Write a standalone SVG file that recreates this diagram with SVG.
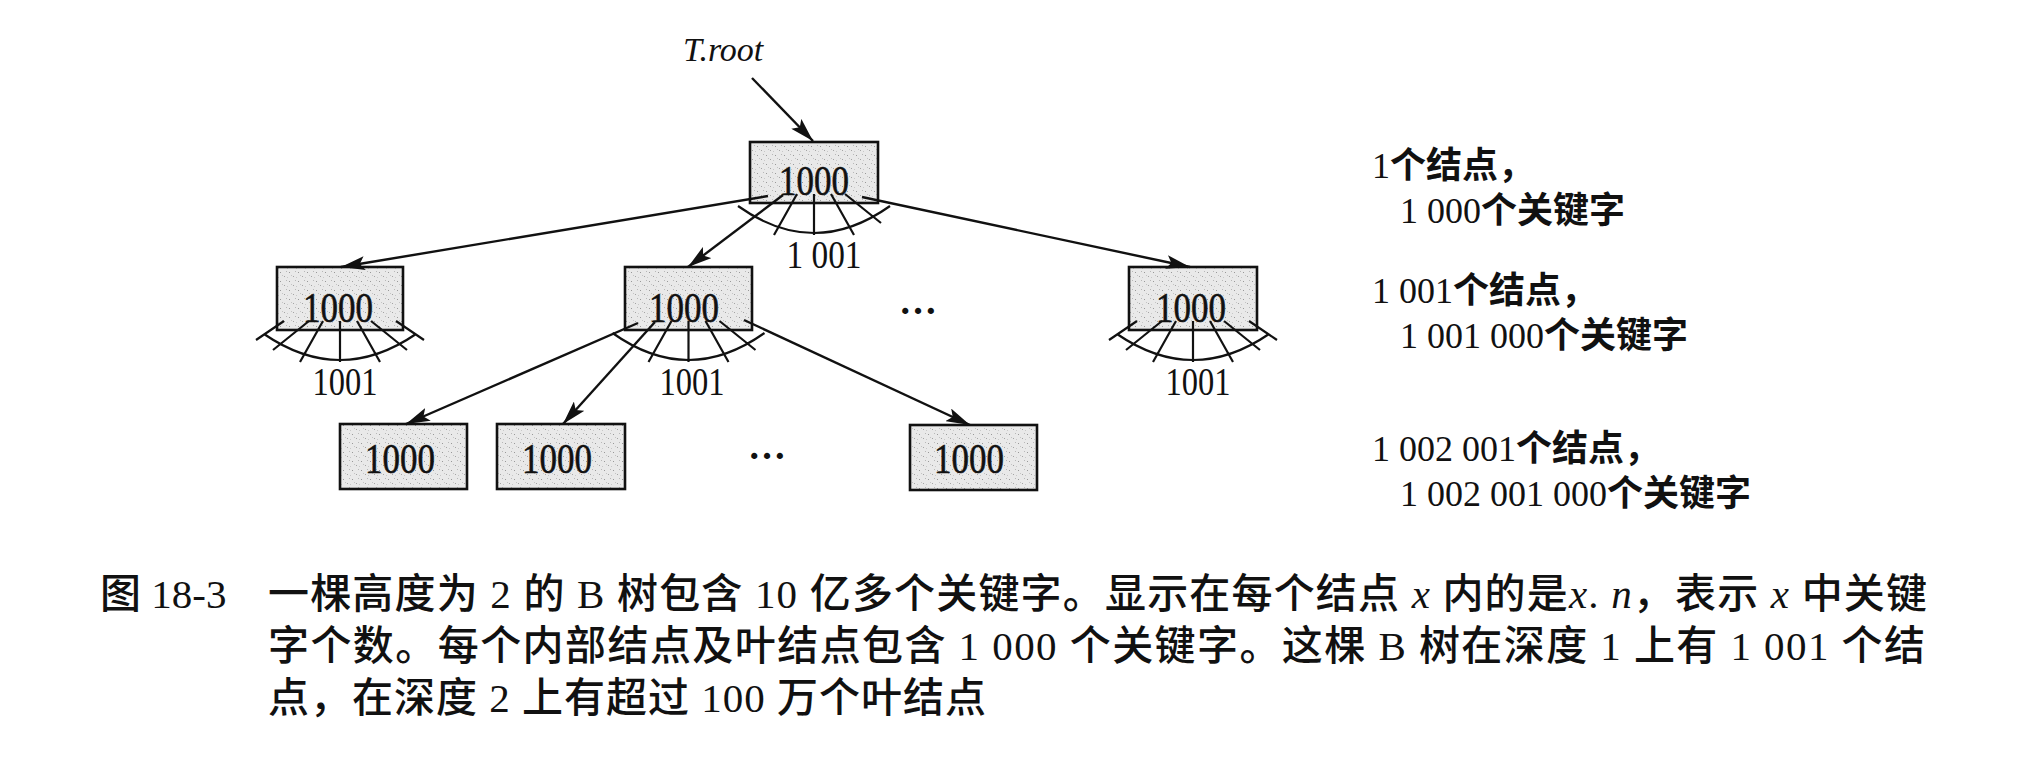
<svg xmlns="http://www.w3.org/2000/svg" xmlns:xlink="http://www.w3.org/1999/xlink" width="2018" height="770" viewBox="0 0 2018 770">
<style>
.box{fill:url(#stip);stroke:#111;stroke-width:2.6}
.key{font-family:"Liberation Serif",serif;font-size:42px;fill:#111;stroke:#111;stroke-width:0.6;text-anchor:middle}
.cnt{font-family:"Liberation Serif",serif;font-size:40px;fill:#111;text-anchor:middle}
.fan{fill:none;stroke:#111;stroke-width:2.2}
.edge{fill:none;stroke:#111;stroke-width:2.4;marker-end:url(#arr)}
.side{font-family:"Liberation Serif","Noto Sans CJK SC",serif;font-size:36px;fill:#111}
.cj{font-family:"Noto Sans CJK SC",sans-serif;font-weight:bold}
.cap{font-family:"Liberation Serif","Noto Sans CJK SC",serif;font-size:41px;fill:#111}
.capc{font-family:"Noto Sans CJK SC",sans-serif;font-weight:500}
.it{font-style:italic}
.dots{font-family:"Liberation Serif",serif;font-size:38px;font-weight:bold;fill:#111;text-anchor:middle}
</style>
<defs>
<pattern id="stip" width="9" height="9" patternUnits="userSpaceOnUse">
<rect width="9" height="9" fill="#e9e9e9"/>
<rect x="1" y="2" width="1" height="1" fill="#999"/>
<rect x="5" y="6" width="1" height="1" fill="#a4a4a4"/>
<rect x="7" y="1" width="1" height="1" fill="#b8b8b8"/>
<rect x="3" y="5" width="1" height="1" fill="#c4c4c4"/>
<rect x="8" y="7" width="1" height="1" fill="#c8c8c8"/>
</pattern>
<marker id="arr" markerUnits="userSpaceOnUse" viewBox="0 0 24 14" markerWidth="24" markerHeight="14" refX="24" refY="7" orient="auto">
<path d="M0,0 L24,7 L0,14 L5,7 Z" fill="#111"/>
</marker>
<path id="fan7" class="fan" d="M-56,-9 L-84,10 M-31,-9 L-67,20 M-17,-9 L-40,32 M0,-9 L0,32 M17,-9 L40,32 M31,-9 L67,20 M56,-9 L84,10 M-76,4 Q0,56 76,4"/>
<path id="fan4" class="fan" d="M-17,-9 L-40,32 M0,-9 L0,32 M17,-9 L40,32 M31,-9 L67,20 M-76,3 Q0,57 76,3"/>
</defs>
<rect width="2018" height="770" fill="#fff"/>

<text id="label-troot" x="683" y="61" font-family="Liberation Serif, serif" font-style="italic" font-size="34" fill="#111">T.root</text>

<g id="node-root">
<rect class="box" x="750" y="142" width="128" height="61"/>
<text class="key" x="814" y="195" textLength="70" lengthAdjust="spacingAndGlyphs">1000</text>
<use xlink:href="#fan4" href="#fan4" x="814" y="203"/>
<text class="cnt" x="824" y="268" textLength="75" lengthAdjust="spacingAndGlyphs">1 001</text>
</g>

<g id="node-l1-left">
<rect class="box" x="277" y="267" width="126" height="63"/>
<text class="key" x="338" y="322" textLength="70" lengthAdjust="spacingAndGlyphs">1000</text>
<use xlink:href="#fan7" href="#fan7" x="340" y="330"/>
<text class="cnt" x="345" y="395" textLength="65" lengthAdjust="spacingAndGlyphs">1001</text>
</g>

<g id="node-l1-mid">
<rect class="box" x="625" y="267" width="127" height="63"/>
<text class="key" x="684" y="322" textLength="70" lengthAdjust="spacingAndGlyphs">1000</text>
<use xlink:href="#fan4" href="#fan4" x="688.5" y="330"/>
<text class="cnt" x="692" y="395" textLength="65" lengthAdjust="spacingAndGlyphs">1001</text>
</g>

<g id="node-l1-dots">
<text class="dots" x="918" y="314">…</text>
</g>

<g id="node-l1-right">
<rect class="box" x="1129" y="267" width="128" height="63"/>
<text class="key" x="1191" y="322" textLength="70" lengthAdjust="spacingAndGlyphs">1000</text>
<use xlink:href="#fan7" href="#fan7" x="1193" y="330"/>
<text class="cnt" x="1198" y="395" textLength="65" lengthAdjust="spacingAndGlyphs">1001</text>
</g>

<g id="node-leaf1">
<rect class="box" x="340" y="424" width="127" height="65"/>
<text class="key" x="400" y="473" textLength="70" lengthAdjust="spacingAndGlyphs">1000</text>
</g>

<g id="node-leaf2">
<rect class="box" x="497" y="424" width="128" height="65"/>
<text class="key" x="557" y="473" textLength="70" lengthAdjust="spacingAndGlyphs">1000</text>
</g>

<g id="node-leaf-dots">
<text class="dots" x="767" y="459">…</text>
</g>

<g id="node-leaf3">
<rect class="box" x="910" y="425" width="127" height="65"/>
<text class="key" x="969" y="473" textLength="70" lengthAdjust="spacingAndGlyphs">1000</text>
</g>

<g id="connectors">
<line class="edge" x1="752" y1="78" x2="813" y2="141"/>
<line class="edge" x1="768" y1="196" x2="341" y2="267"/>
<line class="edge" x1="783" y1="195" x2="688" y2="267"/>
<line class="edge" x1="862" y1="197" x2="1190" y2="267"/>
<line class="edge" x1="638" y1="323" x2="406" y2="424"/>
<line class="edge" x1="655" y1="322" x2="563" y2="424"/>
<line class="edge" x1="744" y1="320" x2="970" y2="425"/>
</g>

<g id="side-labels">
<text class="side" x="1372" y="178">1<tspan class="cj">个结点，</tspan></text>
<text class="side" x="1400" y="223">1 000<tspan class="cj">个关键字</tspan></text>
<text class="side" x="1372" y="303">1 001<tspan class="cj">个结点，</tspan></text>
<text class="side" x="1400" y="348">1 001 000<tspan class="cj">个关键字</tspan></text>
<text class="side" x="1372" y="461">1 002 001<tspan class="cj">个结点，</tspan></text>
<text class="side" x="1400" y="506">1 002 001 000<tspan class="cj">个关键字</tspan></text>
</g>

<g id="caption">
<text class="cap"><tspan x="100" y="608"><tspan class="capc" font-weight="bold">图</tspan> 18-3</tspan><tspan x="268" y="608" textLength="1659" lengthAdjust="spacing"><tspan class="capc">一棵高度为</tspan> 2 <tspan class="capc">的</tspan> B <tspan class="capc">树包含</tspan> 10 <tspan class="capc">亿多个关键字。显示在每个结点</tspan> <tspan class="it">x</tspan> <tspan class="capc">内的是</tspan><tspan class="it">x</tspan>. <tspan class="it">n</tspan><tspan class="capc">，表示</tspan> <tspan class="it">x</tspan> <tspan class="capc">中关键</tspan></tspan><tspan x="268" y="660" textLength="1657" lengthAdjust="spacing"><tspan class="capc">字个数。每个内部结点及叶结点包含</tspan> 1 000 <tspan class="capc">个关键字。这棵</tspan> B <tspan class="capc">树在深度</tspan> 1 <tspan class="capc">上有</tspan> 1 001 <tspan class="capc">个结</tspan></tspan><tspan x="268" y="712" letter-spacing="1"><tspan class="capc">点，在深度</tspan> 2 <tspan class="capc">上有超过</tspan> 100 <tspan class="capc">万个叶结点</tspan></tspan></text>
</g>
</svg>
